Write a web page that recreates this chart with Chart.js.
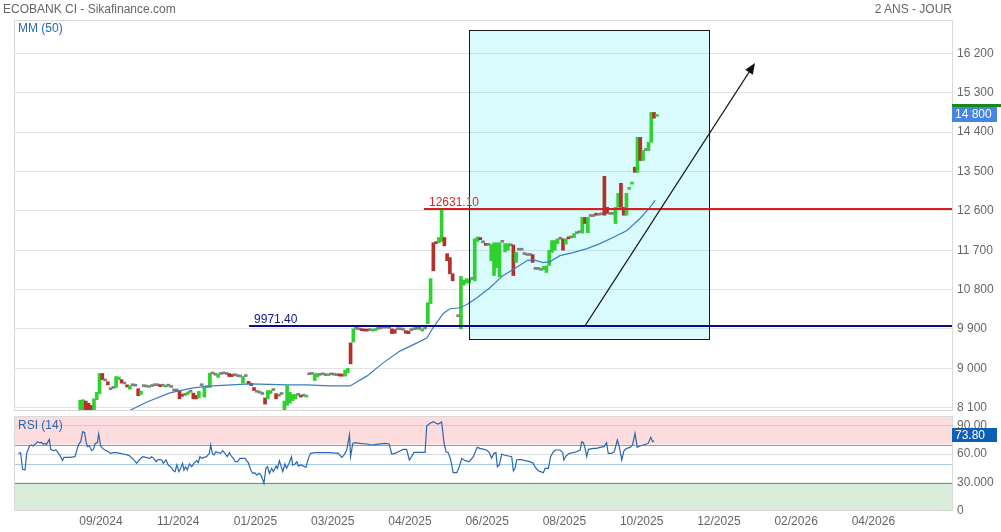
<!DOCTYPE html>
<html>
<head>
<meta charset="utf-8">
<script src="https://cdn.jsdelivr.net/npm/chart.js@4.4.1/dist/chart.umd.min.js"></script>
<style>
  html, body { margin: 0; padding: 0; background: #fff; }
  body { width: 1001px; height: 532px; position: relative; overflow: hidden; font-family: Arial, 'Liberation Sans', sans-serif; }
  .txt { position: absolute; font-size: 12px; line-height: 14px; color: #666; white-space: nowrap; }
  .blue { color: #2767b5; }
  #priceWrap { position: absolute; left: 0; top: 0; width: 1001px; height: 412px; }
  #rsiWrap { position: absolute; left: 0; top: 412px; width: 1001px; height: 120px; }
</style>
</head>
<body>
<div id="priceWrap"><canvas id="priceChart"></canvas></div>
<div id="rsiWrap"><canvas id="rsiChart"></canvas></div>
<div class="txt" style="left:3px;top:2px">ECOBANK CI - Sikafinance.com</div>
<div class="txt" style="right:49px;top:2px">2 ANS - JOUR</div>
<div class="txt blue" style="left:18px;top:21px">MM (50)</div>
<div class="txt blue" style="left:18px;top:418px">RSI (14)</div>
<script>
// x axis is in trading-day slots, 0 .. xMax across the plot
const xMax = 340
const xTickPos = [31.5, 59.5, 87.5, 115.5, 143.5, 171.5, 199.5, 227.5, 255.5, 283.5, 311.5]
const xTickLabels = ['09/2024', '11/2024', '01/2025', '03/2025', '04/2025', '06/2025', '08/2025', '10/2025', '12/2025', '02/2026', '04/2026']

const priceMin = 8022
const priceMax = 16965
const priceTicks = [8100, 9000, 9900, 10800, 11700, 12600, 13500, 14400, 15300, 16200]

// daily candles, first one sits in slot firstBar
const firstBar = 24
const opens = [
  7950, 8000, 8250, 8200, 8150, 8050, 8280, 8420, 8880, 8710, 8690, 8510, 8540, 8560, 8740, 8740,
  8640, 8620, 8520, 8600, 8590, 8530, 8400, 8580, 8570, 8560, 8580, 8600, 8600, 8610, 8590, 8570,
  8590, 8560, 8480, 8480, 8480, 8400, 8380, 8400, 8450, 8430, 8380, 8320, 8600, 8340, 8560, 8560,
  8870, 8840, 8790, 8860, 8870, 8860, 8880, 8860, 8830, 8810, 8800, 8660, 8810, 8700, 8660, 8560,
  8450, 8430, 8400, 8320, 8300, 8420, 8490, 8420, 8360, 8400, 8000, 8150, 8200, 8260, 8300, 8380,
  8380, 8360, 8340, 8850, 8860, 8720, 8800, 8840, 8850, 8830, 8830, 8850, 8840, 8830, 8870, 8850,
  8820, 8900, 9580, 9600, 9890, 9880, 9890, 9880, 9870, 9860, 9850, 9860, 9890, 9900, 9920, 9920,
  9910, 9900, 9880, 9880, 9880, 9870, 9860, 9850, 9860, 9880, 9890, 9890, 9850, 9900, 10020, 10480,
  11870, 11880, 11870, 11900, 11990, 11620, 11530, 11160, null, 10180, 9900, 10900, 10950, 10950, 11030, 11000,
  11900, 11990, 11870, 11850, 11810, 11460, 11120, 11300, 11090, 11880, 11660, 11700, 11800, 11820, 11420, 11700,
  11700, 11600, 11580, 11580, 11600, 11260, 11260, 11240, 11250, 11190, 11350, 11650, 11700, 11850, 11950, 11960,
  11840, 12000, 11980, 11990, 12080, 12100, 12090, 12450, 12100, 12470, 12470, 12540, 12500, 12510, 13390, 12680,
  12520, 12520, 12310, 12680, 13230, 12680, 12500, 13090, 13210, 13600, 13480, 14280, 13750, 13980, 13980, 14170,
  14850, 14760
]
const closes = [
  8270, 8280, 8030, 8000, 8020, 8300, 8450, 8880, 8740, 8710, 8620, 8510, 8540, 8810, 8800, 8660,
  8640, 8570, 8600, 8600, 8590, 8370, 8480, 8580, 8570, 8590, 8580, 8600, 8600, 8580, 8590, 8600,
  8590, 8560, 8480, 8480, 8300, 8360, 8380, 8460, 8450, 8300, 8300, 8470, 8600, 8580, 8600, 8890,
  8870, 8840, 8870, 8860, 8870, 8860, 8810, 8810, 8830, 8810, 8800, 8810, 8810, 8640, 8600, 8490,
  8450, 8430, 8400, 8180, 8490, 8490, 8490, 8300, 8360, 8400, 8250, 8600, 8450, 8400, 8400, 8380,
  8340, 8360, 8370, 8850, 8860, 8880, 8880, 8840, 8850, 8830, 8850, 8850, 8840, 8830, 8820, 8820,
  8960, 9000, 9100, 9900, 9890, 9880, 9860, 9850, 9850, 9860, 9880, 9900, 9890, 9900, 9920, 9920,
  9910, 9790, 9800, 9880, 9880, 9870, 9800, 9790, 9860, 9880, 9890, 9890, 9900, 9900, 10500, 11050,
  11230, 11850, 11990, 12630, 11800, 11460, 11160, 11000, null, 10180, 11100, 11010, 11050, 11030, 11030, 11960,
  12000, 11940, 11870, 11810, 11810, 11830, 11870, 11870, 11870, 11880, 11850, 11850, 11800, 11120, 11650, 11700,
  11700, 11600, 11580, 11580, 11420, 11260, 11260, 11240, 11330, 11340, 11700, 11920, 11920, 11960, 11950, 11700,
  11960, 11960, 11980, 12080, 12080, 12100, 12450, 12310, 12450, 12470, 12470, 12500, 12500, 12510, 12500, 12540,
  12520, 12520, 12680, 13000, 12680, 12500, 13000, 13120, 13230, 13480, 14280, 13750, 13980, 13980, 14170, 14850,
  14720, 14800
]

// MM (50) as [slot, value]
const maPoints = [
  [40.2, 7980], [48.2, 8228], [56.5, 8435], [64.9, 8550], [72.1, 8595], [85.5, 8641], [99, 8618],
  [106.2, 8618], [114.5, 8595], [121.8, 8595], [128, 8825], [133.8, 9123], [140, 9398], [146.1, 9581],
  [149.7, 9696], [151.9, 9925], [155.5, 10246], [158, 10361], [161.7, 10384], [164.6, 10475],
  [167.8, 10613], [172.5, 10842], [177.2, 11118], [180.8, 11255], [186, 11462], [188.1, 11485],
  [191.8, 11416], [194.3, 11439], [197.9, 11576], [202.6, 11645], [207.7, 11737], [212.4, 11851],
  [217.1, 11989], [222.2, 12150], [226.9, 12425], [230.5, 12677], [232.4, 12837]
]

// RSI (14) as [slot, value]
const rsiPoints = [
  [1.6, 60.7], [2.4, 61.4], [3.1, 43.8], [4.0, 43.1], [4.6, 60.7], [5.6, 68.4], [6.4, 69.5], [7.0, 68.4],
  [8.0, 71.2], [8.5, 73.0], [9.2, 71.9], [10.0, 72.3], [10.6, 70.2], [11.2, 71.2], [11.8, 70.2], [12.8, 75.4],
  [13.3, 64.9], [14.3, 63.5], [15.2, 64.2], [16.1, 60.7], [16.9, 57.2], [17.6, 53.0], [18.1, 56.5], [20.3, 56.5],
  [22.1, 57.2], [23.3, 69.5], [24.2, 73.0], [24.9, 83.5], [25.6, 82.4], [26.1, 73.0], [26.6, 67.7], [27.3, 68.4],
  [28.2, 63.5], [28.8, 64.9], [29.4, 71.2], [30.2, 71.9], [30.7, 81.0], [31.4, 68.4], [32.1, 65.9], [33.0, 64.2],
  [34.2, 62.4], [35.0, 60.7], [36.0, 61.4], [37.2, 61.4], [38.4, 60.7], [39.6, 60.0], [40.8, 59.3], [42.0, 57.9],
  [43.3, 54.4], [44.5, 50.2], [45.4, 53.7], [46.6, 57.2], [47.8, 56.5], [49.1, 55.4], [49.9, 57.2], [50.7, 55.4],
  [51.5, 51.9], [52.3, 54.4], [53.5, 53.7], [54.1, 50.2], [55.1, 53.7], [55.9, 48.4], [56.8, 46.6], [57.8, 42.4],
  [58.4, 41.4], [59.0, 48.4], [59.8, 41.4], [60.4, 44.9], [61.1, 50.2], [61.6, 43.1], [62.2, 46.6], [62.8, 43.1],
  [63.6, 49.5], [64.4, 46.6], [65.2, 50.2], [66.2, 53.0], [66.8, 50.9], [67.4, 57.2], [68.0, 55.4], [68.9, 56.5],
  [69.8, 57.2], [70.8, 60.7], [71.3, 69.5], [71.9, 60.7], [72.5, 58.9], [73.2, 62.4], [74.1, 61.4], [74.9, 60.7],
  [75.6, 63.5], [76.5, 60.7], [77.3, 57.2], [78.1, 61.4], [78.5, 58.9], [79.5, 55.4], [80.2, 51.9], [81.0, 51.9],
  [81.9, 55.4], [83.7, 55.4], [84.9, 50.9], [85.8, 43.1], [86.5, 39.6], [87.2, 40.3], [88.0, 37.9], [88.9, 39.6],
  [89.7, 36.8], [90.6, 29.1], [91.3, 44.9], [91.9, 46.6], [92.6, 39.6], [93.4, 44.9], [94.0, 41.4], [95.0, 47.3],
  [95.5, 44.9], [96.2, 53.0], [96.8, 47.3], [97.4, 41.4], [98.2, 49.5], [98.8, 44.9], [99.8, 50.9], [100.6, 57.2],
  [101.0, 48.4], [101.9, 49.5], [102.5, 51.9], [103.1, 47.3], [103.9, 48.4], [104.9, 47.3], [105.8, 45.9], [106.7, 55.4],
  [107.5, 60.7], [109.1, 61.4], [110.9, 61.4], [114.5, 61.4], [117.6, 60.7], [118.8, 56.5], [119.6, 58.9], [120.6, 64.2],
  [121.6, 80.0], [122.0, 57.2], [122.8, 71.2], [123.6, 71.9], [125.4, 71.2], [127.8, 70.5], [129.6, 69.5], [131.5, 70.2],
  [134.5, 71.2], [136.0, 70.5], [136.9, 60.0], [138.1, 60.7], [139.3, 62.4], [141.1, 64.9], [142.3, 64.9], [143.3, 53.7],
  [144.1, 57.2], [145.0, 61.7], [146.9, 61.7], [149.0, 61.7], [149.6, 89.5], [150.8, 92.3], [152.0, 94.0], [153.0, 92.3],
  [153.8, 91.6], [155.0, 93.7], [155.9, 71.2], [156.6, 62.4], [157.4, 61.4], [158.3, 53.7], [159.2, 40.3], [160.5, 40.3],
  [161.4, 46.6], [162.3, 55.4], [163.5, 53.0], [165.0, 51.9], [166.5, 57.2], [167.9, 67.0], [168.9, 65.9], [170.3, 64.9],
  [171.3, 64.2], [172.3, 61.4], [173.1, 55.4], [174.0, 60.7], [174.7, 61.4], [175.2, 46.6], [175.9, 48.4], [176.8, 60.0],
  [177.6, 58.9], [179.2, 57.9], [180.4, 57.2], [181.0, 42.1], [181.6, 44.9], [182.2, 53.7], [183.4, 54.4], [185.2, 53.0],
  [187.0, 51.9], [188.2, 50.2], [188.8, 46.6], [190.0, 42.4], [190.9, 41.4], [191.9, 40.3], [192.5, 44.9], [193.7, 44.9],
  [194.5, 57.2], [195.5, 62.4], [196.4, 64.2], [197.9, 64.2], [198.9, 61.4], [199.3, 53.7], [200.1, 57.9], [201.3, 60.7],
  [202.7, 61.4], [203.9, 62.4], [205.2, 64.2], [205.8, 73.0], [206.4, 71.9], [207.0, 65.9], [207.6, 57.2], [208.2, 64.9],
  [210.0, 65.9], [211.2, 65.9], [212.4, 67.0], [213.9, 67.7], [214.8, 71.9], [215.4, 60.7], [216.6, 60.7], [217.6, 62.4],
  [218.7, 74.7], [219.4, 67.7], [220.3, 53.7], [221.1, 63.5], [222.1, 65.9], [223.3, 67.0], [224.2, 69.5], [225.1, 81.7],
  [225.9, 67.0], [226.9, 68.4], [228.1, 69.5], [229.3, 70.5], [229.9, 71.2], [230.8, 77.5], [231.5, 73.0], [232.0, 73.8]
]
const rsiTicks = [0, 30, 60, 90]
const rsiTickText = { 0: '0', 30: '30.000', 60: '60.00', 90: '90.00' }

// drawing tools placed on the chart
const levels = [
  { value: 12631.10, from: 148.6, text: '12631.10', color: '#dd1c1c', textColor: '#d42a2a' },
  { value: 9971.40, from: 85.2, text: '9971.40', color: '#0b0b8a', textColor: '#14148c' },
]
const zone = { from: 164.9, to: 251.9, high: 16736, low: 9680 }
const arrow = { x1: 207.0, y1: 9971.4, x2: 268.6, y2: 15982 }

const fmt = v => String(v).replace(/\B(?=(\d{3})+(?!\d))/g, ' ')

function hLine(ctx, x1, x2, y, color, w) {
  ctx.beginPath()
  ctx.strokeStyle = color
  ctx.lineWidth = w
  ctx.moveTo(x1, y)
  ctx.lineTo(x2, y)
  ctx.stroke()
}

function valueTag(ctx, left, top, h, text, bg) {
  ctx.fillStyle = bg
  ctx.fillRect(left, top, 45, h)
  ctx.fillStyle = '#fff'
  ctx.font = '12px Arial'
  ctx.textBaseline = 'middle'
  ctx.textAlign = 'left'
  ctx.fillText(text, left + 3, top + h / 2 + 0.5)
}

const candles = []
opens.forEach((o, k) => {
  if (o === null) return
  candles.push({ x: firstBar + k, y: [o, closes[k]] })
})
const lastClose = closes[closes.length - 1]
const lastRsi = rsiPoints[rsiPoints.length - 1][1]

const candleColor = c => {
  const r = c.raw
  if (!r) return '#888'
  const [o, cl] = r.y
  if (cl > o) return '#2fd12f'
  if (cl < o) return '#b5302b'
  return '#808080'
}

const priceDecor = {
  id: 'priceDecor',
  beforeDatasetsDraw(chart) {
    const { ctx, scales: { x, y } } = chart
    const l = x.getPixelForValue(zone.from), r = x.getPixelForValue(zone.to)
    const t = y.getPixelForValue(zone.high), b = y.getPixelForValue(zone.low)
    ctx.save()
    ctx.fillStyle = 'rgba(0, 225, 240, 0.15)'
    ctx.fillRect(l, t, r - l, b - t)
    ctx.restore()
  },
  afterDatasetsDraw(chart) {
    const { ctx, chartArea: a, scales: { x, y } } = chart
    ctx.save()
    const l = Math.round(x.getPixelForValue(zone.from)) + 0.5
    const r = Math.round(x.getPixelForValue(zone.to)) + 0.5
    const t = Math.round(y.getPixelForValue(zone.high)) + 0.5
    const b = Math.round(y.getPixelForValue(zone.low)) + 0.5
    ctx.strokeStyle = '#1a1a1a'
    ctx.lineWidth = 1
    ctx.strokeRect(l, t, r - l, b - t)

    levels.forEach(lv => {
      const py = Math.round(y.getPixelForValue(lv.value))
      const px = x.getPixelForValue(lv.from)
      hLine(ctx, px, a.right, py, lv.color, 2)
      ctx.fillStyle = lv.textColor
      ctx.font = '12px Arial'
      ctx.textAlign = 'left'
      ctx.textBaseline = 'alphabetic'
      ctx.fillText(lv.text, px + 5, py - 3)
    })

    // trend arrow
    const ax1 = x.getPixelForValue(arrow.x1), ay1 = y.getPixelForValue(arrow.y1)
    const ax2 = x.getPixelForValue(arrow.x2), ay2 = y.getPixelForValue(arrow.y2)
    const ang = Math.atan2(ay2 - ay1, ax2 - ax1)
    ctx.strokeStyle = '#111'
    ctx.lineWidth = 1.3
    ctx.beginPath()
    ctx.moveTo(ax1, ay1)
    ctx.lineTo(ax2 - 6 * Math.cos(ang), ay2 - 6 * Math.sin(ang))
    ctx.stroke()
    ctx.fillStyle = '#111'
    ctx.beginPath()
    ctx.moveTo(ax2, ay2)
    ctx.lineTo(ax2 - 11 * Math.cos(ang) + 4.5 * Math.sin(ang), ay2 - 11 * Math.sin(ang) - 4.5 * Math.cos(ang))
    ctx.lineTo(ax2 - 11 * Math.cos(ang) - 4.5 * Math.sin(ang), ay2 - 11 * Math.sin(ang) + 4.5 * Math.cos(ang))
    ctx.closePath()
    ctx.fill()
    ctx.restore()
  },
  afterDraw(chart) {
    const { ctx, chartArea: a, scales: { y } } = chart
    ctx.save()
    ctx.strokeStyle = '#d9d9d9'
    ctx.lineWidth = 1
    ctx.strokeRect(a.left + 0.5, a.top + 0.5, a.right - a.left, a.bottom - a.top - 1)
    const py = Math.round(y.getPixelForValue(lastClose))
    hLine(ctx, a.right, chart.width, py - 9.5, '#17891a', 3)
    valueTag(ctx, a.right, py - 8, 15, fmt(lastClose), '#4585e6')
    ctx.restore()
  }
}

const rsiBands = [
  { from: 70, to: 100, color: '#fcdcdc' },
  { from: 0, to: 30, color: '#d9ebd9' },
]
const rsiLines = [
  { value: 90, color: '#e6c3c3' },
  { value: 70, color: '#e27b7b' },
  { value: 60, color: '#dcdcdc' },
  { value: 50, color: '#a9c9e9' },
  { value: 30, color: '#5c9f5c' },
]

const rsiDecor = {
  id: 'rsiDecor',
  beforeDatasetsDraw(chart) {
    const { ctx, chartArea: a, scales: { y } } = chart
    ctx.save()
    rsiBands.forEach(b => {
      const t = y.getPixelForValue(b.to), bt = y.getPixelForValue(b.from)
      ctx.fillStyle = b.color
      ctx.fillRect(a.left, t, a.right - a.left, bt - t)
    })
    rsiLines.forEach(l => hLine(ctx, a.left, a.right, Math.round(y.getPixelForValue(l.value)) + 0.5, l.color, 1))
    ctx.restore()
  },
  afterDraw(chart) {
    const { ctx, chartArea: a, scales: { y } } = chart
    ctx.save()
    ctx.strokeStyle = '#d9d9d9'
    ctx.lineWidth = 1
    ctx.strokeRect(a.left + 0.5, a.top + 0.5, a.right - a.left, a.bottom - a.top - 1)
    const py = Math.round(y.getPixelForValue(lastRsi))
    valueTag(ctx, a.right, py - 13, 14, lastRsi.toFixed(2), '#0e5db7')
    ctx.restore()
  }
}

const tickFont = { family: 'Arial', size: 12 }

new Chart(document.getElementById('priceChart'), {
  type: 'bar',
  data: {
    datasets: [
      {
        type: 'line',
        data: maPoints.map(([i, v]) => ({ x: i, y: v })),
        borderColor: '#3b7cc6',
        borderWidth: 1.2,
        pointRadius: 0,
        tension: 0,
        order: 0,
      },
      {
        type: 'bar',
        data: candles,
        barThickness: 3,
        minBarLength: 2,
        backgroundColor: candleColor,
        borderWidth: 0,
        order: 1,
      },
    ],
  },
  options: {
    responsive: true,
    maintainAspectRatio: false,
    animation: false,
    events: [],
    layout: { padding: { left: 14, top: 20, right: 0, bottom: 1 } },
    plugins: { legend: { display: false }, tooltip: { enabled: false } },
    scales: {
      x: { type: 'linear', min: 0, max: xMax, display: false, offset: false },
      y: {
        position: 'right',
        min: priceMin,
        max: priceMax,
        afterBuildTicks: s => { s.ticks = priceTicks.map(v => ({ value: v })) },
        afterFit: s => { s.width = 49; s.paddingTop = 0; s.paddingBottom = 0 },
        grid: { color: '#e3e3e3', drawTicks: false },
        border: { display: false },
        ticks: { padding: 5, color: '#666', font: tickFont, callback: v => fmt(v) },
      },
    },
  },
  plugins: [priceDecor],
})

new Chart(document.getElementById('rsiChart'), {
  type: 'line',
  data: {
    datasets: [{
      data: rsiPoints.map(([i, v]) => ({ x: i, y: v })),
      borderColor: '#2b67b1',
      borderWidth: 1.2,
      pointRadius: 0,
      tension: 0,
    }],
  },
  options: {
    responsive: true,
    maintainAspectRatio: false,
    animation: false,
    events: [],
    layout: { padding: { left: 14, top: 4, right: 0, bottom: 0 } },
    plugins: { legend: { display: false }, tooltip: { enabled: false } },
    scales: {
      x: {
        type: 'linear',
        min: 0,
        max: xMax,
        grid: { display: false, drawTicks: false },
        border: { display: false },
        afterBuildTicks: s => { s.ticks = xTickPos.map(v => ({ value: v })) },
        afterFit: s => { s.height = 21; s.paddingLeft = 0; s.paddingRight = 0 },
        ticks: { autoSkip: false, maxRotation: 0, padding: 3, color: '#666', font: tickFont, callback: (v, k) => xTickLabels[k] },
      },
      y: {
        position: 'right',
        min: 0,
        max: 100,
        grid: { display: false, drawTicks: false },
        border: { display: false },
        afterBuildTicks: s => { s.ticks = rsiTicks.map(v => ({ value: v })) },
        afterFit: s => { s.width = 49; s.paddingTop = 0; s.paddingBottom = 0 },
        ticks: { padding: 5, color: '#666', font: tickFont, callback: v => rsiTickText[v] },
      },
    },
  },
  plugins: [rsiDecor],
})
</script>
</body>
</html>
